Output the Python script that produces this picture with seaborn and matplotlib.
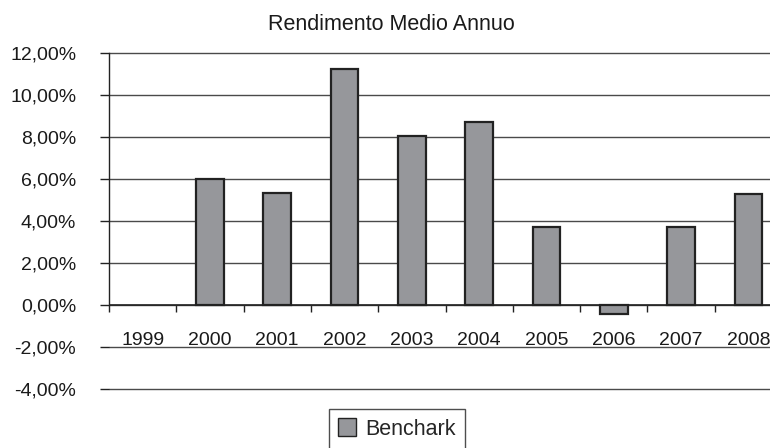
import numpy as np
import pandas as pd
import matplotlib
matplotlib.use("Agg")
import matplotlib.pyplot as plt
import seaborn as sns
from matplotlib.ticker import FuncFormatter, FixedLocator
from matplotlib.patches import Patch

years = ["1999", "2000", "2001", "2002", "2003", "2004", "2005", "2006", "2007", "2008"]
values = [np.nan, 6.00, 5.35, 11.25, 8.05, 8.70, 3.70, -0.45, 3.70, 5.30]
y_ticks = [-4, -2, 0, 2, 4, 6, 8, 10, 12]
title = "Rendimento Medio Annuo"
series_name = "Benchark"

sns.set_theme(style="white")
plt.rcParams["font.family"] = ["Liberation Sans", "DejaVu Sans"]

df = pd.DataFrame({"year": years, "value": values})

fig = plt.figure(figsize=(7.7, 4.48), dpi=100)
ax = fig.add_axes([109 / 770, 59 / 448, 673 / 770, 336 / 448])

bar_color = "#96979b"
edge_color = "#222222"
sns.barplot(data=df, x="year", y="value", order=years, color=bar_color,
            edgecolor=edge_color, linewidth=1.6, width=0.41, saturation=1,
            errorbar=None, ax=ax)

ax.set_xlim(-0.5, len(years) - 0.5)
ax.set_ylim(-4, 12)
ax.set_xlabel("")
ax.set_ylabel("")

ax.yaxis.set_major_locator(FixedLocator(y_ticks))
ax.yaxis.set_major_formatter(FuncFormatter(lambda v, p: f"{v:.2f}%".replace(".", ",")))
ax.set_axisbelow(True)
ax.grid(axis="y", color="#4a4a4a", linewidth=1.0)
ax.grid(axis="x", visible=False)
for gl in ax.get_ygridlines():
    gl.set_clip_on(False)

for s in ["top", "right", "bottom"]:
    ax.spines[s].set_visible(False)
ax.spines["left"].set_bounds(0, 12)
ax.spines["left"].set_color("#222222")
ax.spines["left"].set_linewidth(1.0)
ax.axhline(0, color="#222222", linewidth=1.2, zorder=1.5)

ax.tick_params(axis="y", which="major", left=True, length=6.5, width=1.0,
               color="#222222", pad=17, labelsize=14, labelcolor="#1a1a1a")
ax.tick_params(axis="x", which="major", bottom=False, length=0, pad=19.5,
               labelsize=14, labelcolor="#1a1a1a")
ax.set_xticks(np.arange(-0.5, len(years), 1.0), minor=True)
ax.tick_params(axis="x", which="minor", bottom=True, direction="out", length=5,
               width=1.0, color="#222222")
ax.spines["bottom"].set_position(("data", 0))

fig.text(391 / 770, 1 - 25 / 448, title, ha="center", va="center",
         fontsize=15.5, color="#1a1a1a")

handle = Patch(facecolor=bar_color, edgecolor=edge_color, linewidth=1.0)
leg = fig.legend([handle], [series_name], loc="center",
                 bbox_to_anchor=(397 / 770, 1 - 429 / 448), frameon=True,
                 fancybox=False, fontsize=15.5, handlelength=0.85, handleheight=0.85,
                 handletextpad=0.45, borderpad=0.42, borderaxespad=0)
leg.get_frame().set_edgecolor("#222222")
leg.get_frame().set_linewidth(1.0)

fig.savefig("out.png", dpi=100)
